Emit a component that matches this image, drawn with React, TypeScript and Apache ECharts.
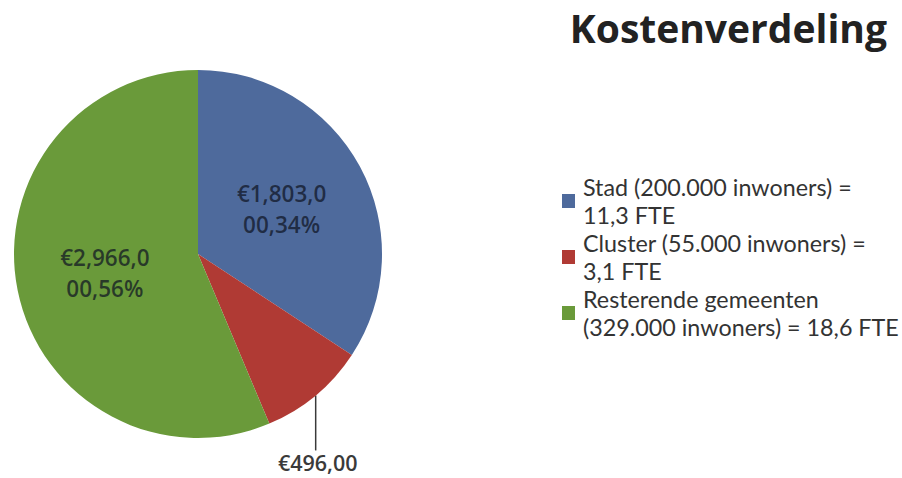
import React, { useEffect, useRef } from "react";
import * as echarts from "echarts";

const categories = [
  "Stad (200.000 inwoners) =\n11,3 FTE",
  "Cluster (55.000 inwoners) =\n3,1 FTE",
  "Resterende gemeenten\n(329.000 inwoners) = 18,6 FTE",
];
const values = [1803, 496, 2966];
const valueLabels = ["€1,803,0", "€496,00", "€2,966,0"];
const colors = ["#4e6a9c", "#b03a34", "#6a9a3a"];
const titleText = "Kostenverdeling";

export default function App() {
  const ref = useRef<HTMLDivElement>(null);
  useEffect(() => {
    document.body.style.margin = "0";
    const chart = echarts.init(ref.current!, null, { renderer: "svg" });
    const font = "'Open Sans', 'Noto Sans', sans-serif";
    const legendFont = "Lato, 'Open Sans', sans-serif";
    chart.setOption({
      animation: false,
      backgroundColor: "#ffffff",
      title: {
        text: titleText,
        right: 10,
        top: 3,
        textStyle: { fontFamily: font, fontSize: 39, fontWeight: "bold", color: "#222" },
      },
      legend: {
        orient: "vertical",
        left: 562,
        top: 173,
        padding: 0,
        itemWidth: 13,
        itemHeight: 14,
        itemGap: 0,
        icon: "rect",
        data: categories,
        textStyle: { fontFamily: legendFont, fontSize: 23.3, color: "#333", lineHeight: 28, padding: [0, 0, 0, 3] },
      },
      series: [
        {
          type: "pie",
          center: [198, 254],
          radius: 184,
          startAngle: 90,
          clockwise: true,
          data: categories.map((name, i) => ({
            name,
            value: values[i],
            itemStyle: { color: colors[i] },
            label:
              i === 1
                ? {
                    show: true,
                    position: "outside",
                    formatter: valueLabels[i],
                    color: "#3a3a3a",
                    fontSize: 21.5,
                    fontWeight: 600,
                    fontFamily: font,
                  }
                : {
                    show: true,
                    position: "inside",
                    color: "rgba(15,20,35,0.72)",
                    fontSize: 22.5,
                    fontWeight: 600,
                    fontFamily: font,
                    lineHeight: 31,
                  },
            labelLine: i === 1 ? { show: true, length: 55, length2: 0, lineStyle: { color: "#3a3a3a", width: 1.5 } } : { show: false },
          })),
          label: {
            formatter: (p: any) => `${valueLabels[p.dataIndex]}\n00,${Math.round(p.percent)}%`,
          },
          labelLayout: (p: any) => {
            if (p.dataIndex !== 1 || !p.labelLinePoints) return {};
            const s = p.labelLinePoints[0];
            return {
              x: s[0] + 2,
              y: s[1] + 67,
              align: "center",
              verticalAlign: "middle",
              labelLinePoints: [s, [s[0], s[1] + 55], [s[0], s[1] + 55]],
            };
          },
          emphasis: { disabled: true },
        },
      ],
    });
    return () => chart.dispose();
  }, []);
  return <div ref={ref} style={{ width: 902, height: 478 }} />;
}
